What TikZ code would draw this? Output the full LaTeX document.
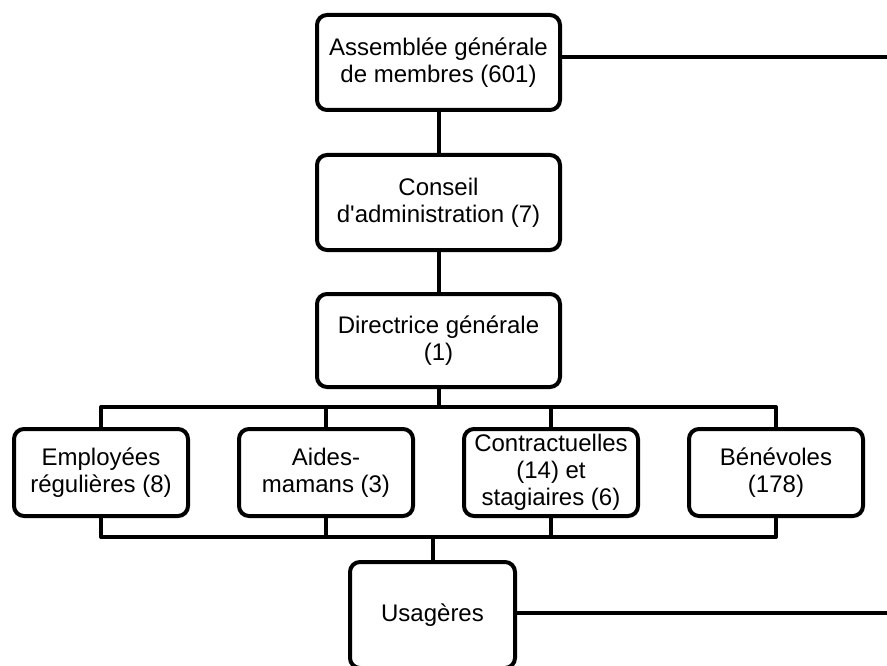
\documentclass[tikz,border=0pt]{standalone}
\usepackage{fontspec}
\setmainfont{Liberation Sans}[Ligatures=TeXOff]
\begin{document}
\begin{tikzpicture}[x=1pt,y=-1pt,
  orgbox/.style={draw, line width=4pt, rounded corners=10pt, fill=white,
    align=center, inner sep=0pt, font=\fontsize{24}{27}\selectfont},
  link/.style={line width=4pt, line join=round}]
\useasboundingbox (0,0) rectangle (887,666);
% boxes
\node[orgbox, minimum width=243pt, minimum height=95pt] (ag) at (438.5,62.5) {Assemblée générale\\de membres (601)};
\node[orgbox, minimum width=243pt, minimum height=95pt] (ca) at (438.5,202.5) {Conseil\\d'administration (7)};
\node[orgbox, minimum width=243pt, minimum height=93pt] (dg) at (438.5,340.5) {Directrice générale\\(1)};
\node[orgbox, minimum width=174pt, minimum height=87pt] (emp) at (101,472.5) {Employées\\régulières (8)};
\node[orgbox, minimum width=174pt, minimum height=87pt] (aid) at (326,472.5) {Aides-\\mamans (3)};
\node[orgbox, minimum width=174pt, minimum height=87pt] (con) at (551,472.5) {Contractuelles\\(14) et\\stagiaires (6)};
\node[orgbox, minimum width=174pt, minimum height=87pt] (ben) at (776,472.5) {Bénévoles\\(178)};
\node[orgbox, minimum width=165pt, minimum height=106pt] (usa) at (432.5,615) {Usagères};
% coordinates
\coordinate (topbus) at (0,407);
\coordinate (botbus) at (0,537);
\coordinate (agR) at (887,57);
\coordinate (usaR) at (887,613);
% connectors
\draw[link] (ag) -- (ca);
\draw[link] (ca) -- (dg);
\draw[link] (dg.south) -- (dg.south |- topbus);
\draw[link] (emp.north) -- (emp.north |- topbus) -- (ben.north |- topbus) -- (ben.north);
\draw[link] (aid.north) -- (aid.north |- topbus);
\draw[link] (con.north) -- (con.north |- topbus);
\draw[link] (emp.south) -- (emp.south |- botbus) -- (ben.south |- botbus) -- (ben.south);
\draw[link] (aid.south) -- (aid.south |- botbus);
\draw[link] (con.south) -- (con.south |- botbus);
\draw[link] (usa.north) -- (usa.north |- botbus);
\draw[link] (ag.east |- agR) -- (agR);
\draw[link] (usa.east |- usaR) -- (usaR);
\end{tikzpicture}
\end{document}
